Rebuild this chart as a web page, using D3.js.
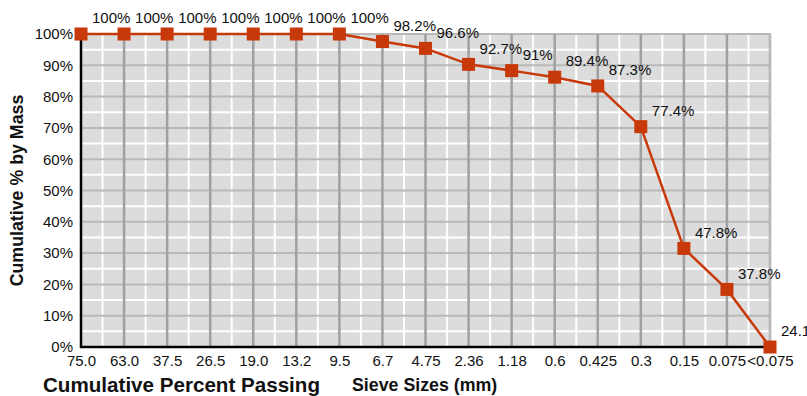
<!DOCTYPE html>
<html><head><meta charset="utf-8">
<script src="https://cdn.jsdelivr.net/npm/d3@7"></script>
<style>body{margin:0;background:#fff}svg{display:block;font-family:"Liberation Sans",Arial,sans-serif}</style>
</head><body><svg id="c" width="807" height="396"></svg>
<script>
const categories = ["75.0","63.0","37.5","26.5","19.0","13.2","9.5","6.7","4.75","2.36","1.18","0.6","0.425","0.3","0.15","0.075","<0.075"];
const plotted = [100,100,100,100,100,100,100,97.6,95.4,90.3,88.3,86.2,83.4,70.4,31.5,18.4,0];
const pointLabels = ["100%","100%","100%","100%","100%","100%","100%","98.2%","96.6%","92.7%","91%","89.4%","87.3%","77.4%","47.8%","37.8%","24.1"];
const yTicks = [0,10,20,30,40,50,60,70,80,90,100];
const yMinor = [5,15,25,35,45,55,65,75,85,95];
const yTitle = "Cumulative % by Mass";
const xTitleLeft = "Cumulative Percent Passing";
const xTitleRight = "Sieve Sizes (mm)";

const svg = d3.select("#c");
const L = 81, R = 770, T = 34, B = 347;
const x = d3.scalePoint().domain(categories).range([L, R]).padding(0);
const y = d3.scaleLinear().domain([0,100]).range([B, T]);
const step = x.step();
const col = "#c8390a";

// background
svg.append("rect").attr("x",L).attr("y",T).attr("width",R-L).attr("height",B-T).attr("fill","#dcdcdc");
// minor white grid
const g = svg.append("g");
g.selectAll(".hm").data(yMinor).join("line")
  .attr("x1",L).attr("x2",R).attr("y1",d=>y(d)).attr("y2",d=>y(d))
  .attr("stroke","#fff").attr("stroke-width",2);
g.selectAll(".vm").data(categories.slice(0,-1)).join("line")
  .attr("x1",d=>x(d)+step/2).attr("x2",d=>x(d)+step/2).attr("y1",T).attr("y2",B)
  .attr("stroke","#fff").attr("stroke-width",2);
// major horizontal
g.selectAll(".hM").data(yTicks.slice(1)).join("line")
  .attr("x1",L).attr("x2",R).attr("y1",d=>y(d)).attr("y2",d=>y(d))
  .attr("stroke","#b9b9b9").attr("stroke-width",2);
// major vertical
g.selectAll(".vM").data(categories.slice(1)).join("line")
  .attr("x1",d=>x(d)).attr("x2",d=>x(d)).attr("y1",T).attr("y2",B)
  .attr("stroke","#a0a0a0").attr("stroke-width",2.5);
// border right
svg.append("line").attr("x1",R).attr("x2",R).attr("y1",T-1).attr("y2",B).attr("stroke","#b9b9b9").attr("stroke-width",2);

// axes
const yAxis = d3.axisLeft(y).tickValues(yTicks).tickFormat(d=>d+"%").tickSize(0).tickPadding(8);
const ya = svg.append("g").attr("transform",`translate(${L},0)`).call(yAxis);
ya.select(".domain").remove();
ya.selectAll("text").attr("font-size",15).attr("fill","#111").style("font-family","Liberation Sans, Arial, sans-serif");
const xAxis = d3.axisBottom(x).tickSize(0).tickPadding(8);
const xa = svg.append("g").attr("transform",`translate(0,${B})`).call(xAxis);
xa.select(".domain").remove();
xa.selectAll("text").attr("font-size",15).attr("fill","#111").style("font-family","Liberation Sans, Arial, sans-serif");

svg.append("line").attr("x1",L).attr("x2",L).attr("y1",T).attr("y2",B+1).attr("stroke","#000").attr("stroke-width",2.5);
svg.append("line").attr("x1",L-1).attr("x2",R+1).attr("y1",B).attr("y2",B).attr("stroke","#000").attr("stroke-width",2.5);

// series
const line = d3.line().x((d,i)=>x(categories[i])).y(d=>y(d));
svg.append("path").datum(plotted).attr("d",line).attr("fill","none").attr("stroke",col).attr("stroke-width",2.5);
svg.selectAll(".pt").data(plotted).join("rect")
  .attr("x",(d,i)=>x(categories[i])-6.5).attr("y",d=>y(d)-6.5).attr("width",13).attr("height",13).attr("fill",col);
svg.selectAll(".lb").data(plotted).join("text")
  .attr("x",(d,i)=>x(categories[i])+11).attr("y",d=>y(d)-16).attr("dy","0.35em")
  .attr("font-size",15).attr("fill","#111").text((d,i)=>pointLabels[i]);

// titles
svg.append("text").attr("transform",`translate(23,${(T+B)/2}) rotate(-90)`).attr("text-anchor","middle")
  .attr("font-size",17.8).attr("font-weight","bold").attr("fill","#111").text(yTitle);
svg.append("text").attr("x",43).attr("y",392).attr("font-size",20.6).attr("font-weight","bold").attr("fill","#111").text(xTitleLeft);
svg.append("text").attr("x",352).attr("y",391).attr("font-size",17.8).attr("font-weight","bold").attr("fill","#111").text(xTitleRight);
</script></body></html>
